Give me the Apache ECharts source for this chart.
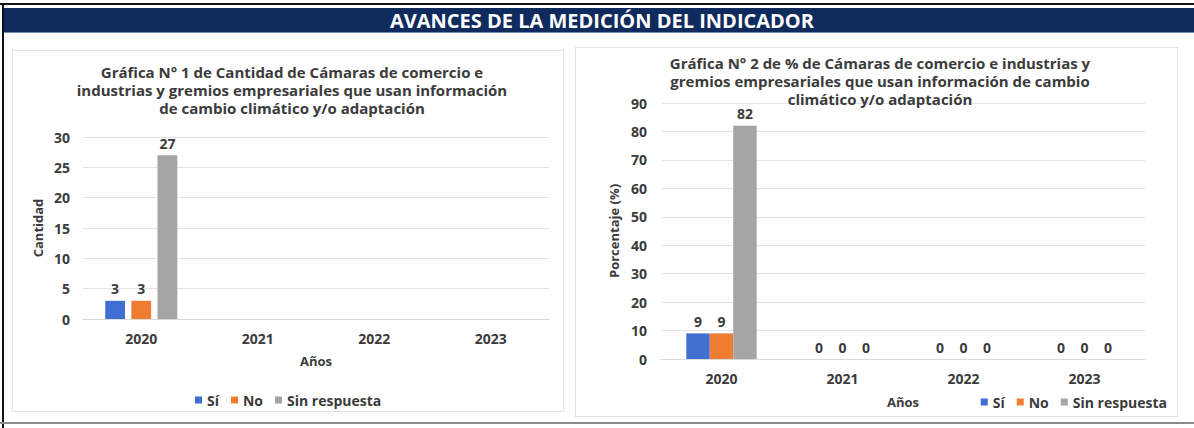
<!DOCTYPE html>
<html>
<head>
<meta charset="utf-8">
<script src="https://cdn.jsdelivr.net/npm/echarts@6/dist/echarts.min.js"></script>
<style>
  html, body { margin:0; padding:0; width:1194px; height:428px; background:#ffffff; overflow:hidden; font-family:"Open Sans", sans-serif; }
  #topline { position:absolute; left:0; top:3px; width:1194px; height:2px; background:#111; }
  #leftline { position:absolute; left:2px; top:3px; width:2px; height:425px; background:#111; }
  #bottomline { position:absolute; left:0; top:422px; width:1194px; height:2px; background:#8c8c8c; }
  #header { position:absolute; left:4px; top:8px; width:1190px; height:25px; background:#0f2a5c;
            border-bottom:1px solid #6f8fc0; color:#fff; font-weight:700; font-size:20px;
            line-height:25px; text-align:center; box-sizing:border-box; padding-left:6px; }
  .panel { position:absolute; border:1px solid #e3e3e3; box-sizing:border-box; }
  #p1 { left:12px; top:50px; width:552px; height:362px; }
  #p2 { left:575px; top:47px; width:603px; height:370px; }
  #chart { position:absolute; left:0; top:0; width:1194px; height:428px; }
</style>
</head>
<body>
<div id="topline"></div>
<div id="leftline"></div>
<div id="header">AVANCES DE LA MEDICIÓN DEL INDICADOR</div>
<div class="panel" id="p1"></div>
<div class="panel" id="p2"></div>
<div id="bottomline"></div>
<div id="chart"></div>
<script>
// ---- data ----
const categories = ['2020', '2021', '2022', '2023'];
const seriesNames = ['Sí', 'No', 'Sin respuesta'];
// Gráfica 1: cantidad
const cantSi = [3, null, null, null];
const cantNo = [3, null, null, null];
const cantSinResp = [27, null, null, null];
// Gráfica 2: porcentaje
const pctSi = [9, 0, 0, 0];
const pctNo = [9, 0, 0, 0];
const pctSinResp = [82, 0, 0, 0];
// axis ticks
const cantAxis = { min: 0, max: 30, interval: 5 };
const pctAxis = { min: 0, max: 90, interval: 10 };

const colors = ['#3f6fd1', '#ee7d31', '#a5a5a5'];
const txt = '#3b3b3b';
const FONT = '"Open Sans", sans-serif';

const chart = echarts.init(document.getElementById('chart'), null, { renderer: 'svg' });

function mkSeries(name, data, color, xi, bw, gap) {
  return {
    name: name, type: 'bar', xAxisIndex: xi, yAxisIndex: xi, data: data,
    barWidth: bw, barGap: gap,
    itemStyle: { color: color },
    label: { show: true, position: 'top', distance: 5, color: txt, fontWeight: 'bold', fontSize: 14, fontFamily: FONT },
    emphasis: { disabled: true }
  };
}

const axisLabelStyle = { color: txt, fontWeight: 'bold', fontSize: 14, fontFamily: FONT };
const nameStyle = { color: txt, fontWeight: 'bold', fontSize: 13, fontFamily: FONT };
const titleStyle = { color: txt, fontWeight: 'bold', fontSize: 15, lineHeight: 18, fontFamily: FONT };
const legendText = { color: txt, fontWeight: 'bold', fontSize: 14, fontFamily: FONT };

chart.setOption({
  animation: false,
  color: colors,
  textStyle: { fontFamily: FONT },
  title: [
    {
      text: 'Gráfica N° 1 de Cantidad de Cámaras de comercio e\nindustrias y gremios empresariales que usan información\nde cambio climático y/o adaptación',
      left: 287, top: 58, textAlign: 'center', textStyle: titleStyle
    },
    {
      text: 'Gráfica N° 2 de % de Cámaras de comercio e industrias y\ngremios empresariales que usan información de cambio\nclimático y/o adaptación',
      left: 875, top: 49, textAlign: 'center', textStyle: titleStyle
    }
  ],
  legend: [
    {
      data: seriesNames, left: 190, top: 388, icon: 'rect', itemWidth: 7, itemHeight: 7, itemGap: 12,
      textStyle: legendText, selectedMode: false
    },
    {
      data: seriesNames, right: 22, top: 390, icon: 'rect', itemWidth: 7, itemHeight: 7, itemGap: 12,
      textStyle: legendText, selectedMode: false
    }
  ],
  grid: [
    { left: 83, top: 137, width: 466, height: 182, containLabel: false },
    { left: 661, top: 103, width: 484, height: 256, containLabel: false }
  ],
  xAxis: [
    {
      type: 'category', gridIndex: 0, data: categories,
      axisLine: { lineStyle: { color: '#d9d9d9' } }, axisTick: { show: false },
      axisLabel: Object.assign({ margin: 12 }, axisLabelStyle),
      name: 'Años', nameLocation: 'middle', nameGap: 35, nameTextStyle: nameStyle
    },
    {
      type: 'category', gridIndex: 1, data: categories,
      axisLine: { lineStyle: { color: '#d9d9d9' } }, axisTick: { show: false },
      axisLabel: Object.assign({ margin: 12 }, axisLabelStyle),
      name: 'Años', nameLocation: 'middle', nameGap: 36, nameTextStyle: nameStyle
    }
  ],
  yAxis: [
    {
      type: 'value', gridIndex: 0, min: cantAxis.min, max: cantAxis.max, interval: cantAxis.interval,
      axisLine: { show: false }, axisTick: { show: false },
      splitLine: { lineStyle: { color: '#e3e3e3' } },
      axisLabel: Object.assign({ margin: 13 }, axisLabelStyle),
      name: 'Cantidad', nameLocation: 'middle', nameGap: 39, nameTextStyle: nameStyle
    },
    {
      type: 'value', gridIndex: 1, min: pctAxis.min, max: pctAxis.max, interval: pctAxis.interval,
      axisLine: { show: false }, axisTick: { show: false },
      splitLine: { lineStyle: { color: '#e3e3e3' } },
      axisLabel: Object.assign({ margin: 14 }, axisLabelStyle),
      name: 'Porcentaje (%)', nameLocation: 'middle', nameGap: 41, nameTextStyle: nameStyle
    }
  ],
  series: [
    mkSeries(seriesNames[0], cantSi, colors[0], 0, '17%', '32%'),
    mkSeries(seriesNames[1], cantNo, colors[1], 0, '17%', '32%'),
    mkSeries(seriesNames[2], cantSinResp, colors[2], 0, '17%', '32%'),
    mkSeries(seriesNames[0], pctSi, colors[0], 1, '19.4%', '0%'),
    mkSeries(seriesNames[1], pctNo, colors[1], 1, '19.4%', '0%'),
    mkSeries(seriesNames[2], pctSinResp, colors[2], 1, '19.4%', '0%')
  ]
});
</script>
</body>
</html>
